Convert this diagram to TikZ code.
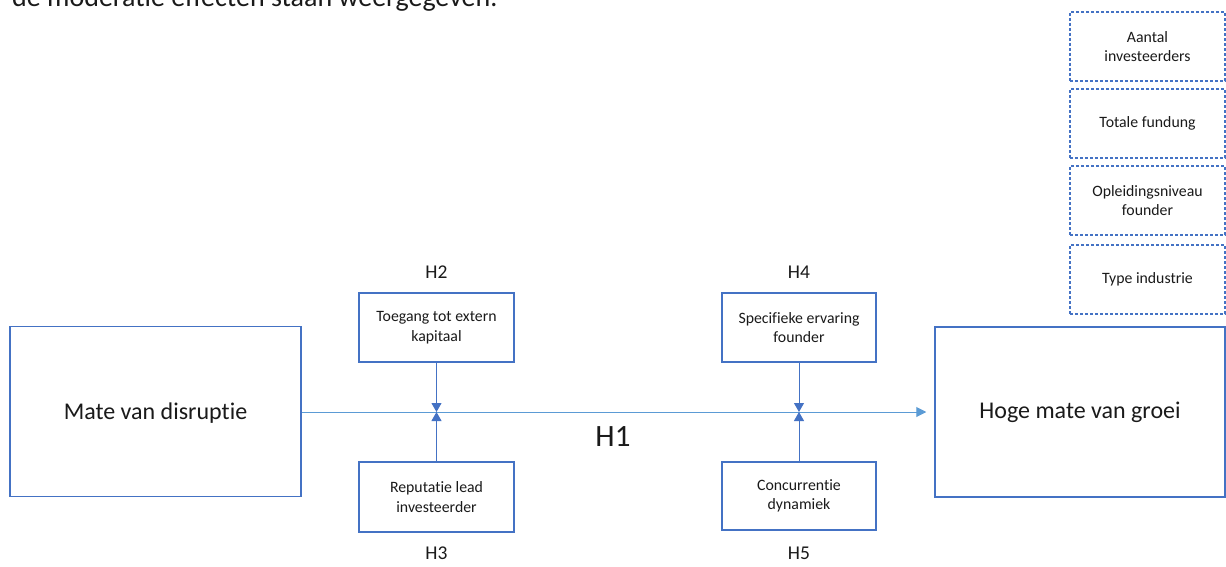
\documentclass[tikz,border=0pt]{standalone}
\usepackage{fontspec}
\setmainfont{Carlito}[RawFeature=-liga]
\usetikzlibrary{arrows.meta}
\definecolor{boxblue}{HTML}{4472C4}
\definecolor{lineblue}{HTML}{5B9BD5}
\definecolor{txt}{HTML}{1A1A1A}
\tikzset{
  mainbox/.style={draw=boxblue, line width=1.5pt, minimum width=291pt, minimum height=170pt, font=\fontsize{24}{28}\selectfont, text=txt},
  modbox/.style={draw=boxblue, line width=1.5pt, minimum width=155pt, minimum height=69pt, align=center, font=\fontsize{15.8}{19.5}\selectfont, text=txt},
  ctrlbox/.style={draw=boxblue, line width=1.2pt, dash pattern=on 3pt off 2pt, minimum width=155pt, minimum height=69pt, align=center, font=\fontsize{15.8}{19.5}\selectfont, text=txt},
  hlabel/.style={font=\fontsize{19.5}{23}\selectfont, text=txt},
  modarrow/.style={draw=boxblue, line width=1pt, -{Triangle[length=9pt,width=10pt]}},
  mainarrow/.style={draw=lineblue, line width=1pt, -{Triangle[length=10pt,width=10pt]}}
}
\begin{document}
\begin{tikzpicture}[x=1pt,y=-1pt]
\useasboundingbox (0,0) rectangle (1226,567);
\clip (0,0) rectangle (1226,567);
\fill[white] (0,0) rectangle (1226,567);
\node[anchor=base west, font=\fontsize{28}{32}\selectfont, text=txt, inner sep=0pt] (intro) at (12,7) {de moderatie effecten staan weergegeven.};

\node[mainbox, text depth=0pt] (x) at (155.5,411.5) {Mate van disruptie};
\node[mainbox, minimum width=290pt] (y) at (1080,412) {Hoge mate van groei};

\node[modbox] (h2) at (436.5,327.5) {Toegang tot extern\\kapitaal};
\node[modbox, minimum height=70pt] (h3) at (436.5,497) {Reputatie lead\\investeerder};
\node[modbox, minimum width=154pt] (h4) at (799,327.5) {Specifieke ervaring\\founder};
\node[modbox, minimum width=154pt, minimum height=68pt] (h5) at (799,496) {Concurrentie\\dynamiek};

\node[hlabel] (l2) at (436.5,272) {H2};
\node[hlabel] (l3) at (436.5,553) {H3};
\node[hlabel] (l4) at (799,272) {H4};
\node[hlabel] (l5) at (799,553) {H5};
\node[font=\fontsize{31}{35}\selectfont, text=txt] (l1) at (613,437) {H1};

\node[ctrlbox] (c1) at (1147.5,46.5) {Aantal\\investeerders};
\node[ctrlbox] (c2) at (1147.5,123.5) {Totale fundung};
\node[ctrlbox] (c3) at (1147.5,200.5) {Opleidingsniveau\\founder};
\node[ctrlbox] (c4) at (1147.5,279.5) {Type industrie};

\coordinate (m1) at (436.5,412);
\coordinate (m2) at (799,412);

\draw[mainarrow, shorten >=8pt] (x.east |- m1) -- (y.west |- m1);
\draw[modarrow] (h2.south) -- (m1);
\draw[modarrow] (h3.north) -- (m1);
\draw[modarrow] (h4.south) -- (m2);
\draw[modarrow] (h5.north) -- (m2);
\end{tikzpicture}
\end{document}
